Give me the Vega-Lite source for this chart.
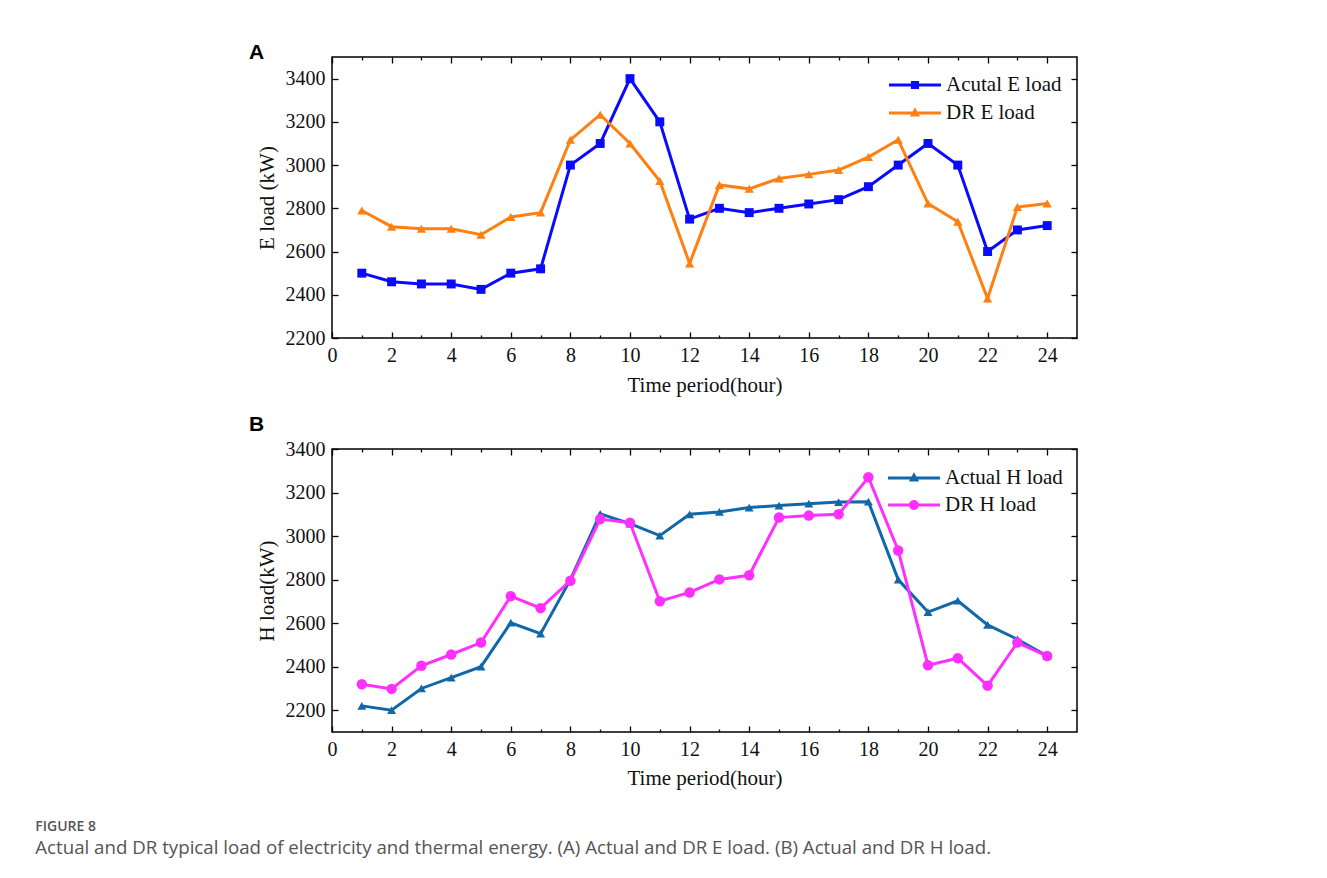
{
  "$schema": "https://vega.github.io/schema/vega-lite/v6.json",
  "padding": {"left": 35, "top": 41, "right": 0, "bottom": 0},
  "background": "white",
  "config": {
    "view": {"stroke": "black", "strokeWidth": 1.5},
    "font": "Liberation Serif",
    "axis": {
      "labelFont": "Liberation Serif", "labelFontSize": 20, "labelColor": "#111",
      "titleFont": "Liberation Serif", "titleFontSize": 21, "titleFontWeight": "normal", "titleColor": "#111",
      "tickColor": "black", "tickWidth": 1.3, "domain": false, "grid": false
    },
    "legend": {
      "labelFont": "Liberation Serif", "labelFontSize": 21, "labelColor": "#111",
      "symbolSize": 729, "symbolStrokeWidth": 0, "symbolOpacity": 1, "rowPadding": 4, "padding": 0, "labelOffset": 30, "title": null
    }
  },
  "datasets": {
    "E": [
      {"hour": 1, "series": "Acutal E load", "load": 2500}, {"hour": 2, "series": "Acutal E load", "load": 2460},
      {"hour": 3, "series": "Acutal E load", "load": 2450}, {"hour": 4, "series": "Acutal E load", "load": 2450},
      {"hour": 5, "series": "Acutal E load", "load": 2425}, {"hour": 6, "series": "Acutal E load", "load": 2500},
      {"hour": 7, "series": "Acutal E load", "load": 2520}, {"hour": 8, "series": "Acutal E load", "load": 3000},
      {"hour": 9, "series": "Acutal E load", "load": 3100}, {"hour": 10, "series": "Acutal E load", "load": 3400},
      {"hour": 11, "series": "Acutal E load", "load": 3200}, {"hour": 12, "series": "Acutal E load", "load": 2750},
      {"hour": 13, "series": "Acutal E load", "load": 2800}, {"hour": 14, "series": "Acutal E load", "load": 2780},
      {"hour": 15, "series": "Acutal E load", "load": 2800}, {"hour": 16, "series": "Acutal E load", "load": 2820},
      {"hour": 17, "series": "Acutal E load", "load": 2840}, {"hour": 18, "series": "Acutal E load", "load": 2900},
      {"hour": 19, "series": "Acutal E load", "load": 3000}, {"hour": 20, "series": "Acutal E load", "load": 3100},
      {"hour": 21, "series": "Acutal E load", "load": 3000}, {"hour": 22, "series": "Acutal E load", "load": 2600},
      {"hour": 23, "series": "Acutal E load", "load": 2700}, {"hour": 24, "series": "Acutal E load", "load": 2720},
      {"hour": 1, "series": "DR E load", "load": 2790}, {"hour": 2, "series": "DR E load", "load": 2715},
      {"hour": 3, "series": "DR E load", "load": 2705}, {"hour": 4, "series": "DR E load", "load": 2705},
      {"hour": 5, "series": "DR E load", "load": 2678}, {"hour": 6, "series": "DR E load", "load": 2760},
      {"hour": 7, "series": "DR E load", "load": 2780}, {"hour": 8, "series": "DR E load", "load": 3117},
      {"hour": 9, "series": "DR E load", "load": 3233}, {"hour": 10, "series": "DR E load", "load": 3100},
      {"hour": 11, "series": "DR E load", "load": 2926}, {"hour": 12, "series": "DR E load", "load": 2545},
      {"hour": 13, "series": "DR E load", "load": 2908}, {"hour": 14, "series": "DR E load", "load": 2890},
      {"hour": 15, "series": "DR E load", "load": 2938}, {"hour": 16, "series": "DR E load", "load": 2957},
      {"hour": 17, "series": "DR E load", "load": 2977}, {"hour": 18, "series": "DR E load", "load": 3037},
      {"hour": 19, "series": "DR E load", "load": 3117}, {"hour": 20, "series": "DR E load", "load": 2822},
      {"hour": 21, "series": "DR E load", "load": 2738}, {"hour": 22, "series": "DR E load", "load": 2383},
      {"hour": 23, "series": "DR E load", "load": 2806}, {"hour": 24, "series": "DR E load", "load": 2822}
    ],
    "H": [
      {"hour": 1, "series": "Actual H load", "load": 2220}, {"hour": 2, "series": "Actual H load", "load": 2200},
      {"hour": 3, "series": "Actual H load", "load": 2300}, {"hour": 4, "series": "Actual H load", "load": 2350},
      {"hour": 5, "series": "Actual H load", "load": 2400}, {"hour": 6, "series": "Actual H load", "load": 2602},
      {"hour": 7, "series": "Actual H load", "load": 2552}, {"hour": 8, "series": "Actual H load", "load": 2800},
      {"hour": 9, "series": "Actual H load", "load": 3102}, {"hour": 10, "series": "Actual H load", "load": 3057},
      {"hour": 11, "series": "Actual H load", "load": 3002}, {"hour": 12, "series": "Actual H load", "load": 3100},
      {"hour": 13, "series": "Actual H load", "load": 3111}, {"hour": 14, "series": "Actual H load", "load": 3131},
      {"hour": 15, "series": "Actual H load", "load": 3140}, {"hour": 16, "series": "Actual H load", "load": 3149},
      {"hour": 17, "series": "Actual H load", "load": 3156}, {"hour": 18, "series": "Actual H load", "load": 3158},
      {"hour": 19, "series": "Actual H load", "load": 2800}, {"hour": 20, "series": "Actual H load", "load": 2651},
      {"hour": 21, "series": "Actual H load", "load": 2703}, {"hour": 22, "series": "Actual H load", "load": 2592},
      {"hour": 23, "series": "Actual H load", "load": 2526}, {"hour": 24, "series": "Actual H load", "load": 2449},
      {"hour": 1, "series": "DR H load", "load": 2319}, {"hour": 2, "series": "DR H load", "load": 2298},
      {"hour": 3, "series": "DR H load", "load": 2404}, {"hour": 4, "series": "DR H load", "load": 2456},
      {"hour": 5, "series": "DR H load", "load": 2511}, {"hour": 6, "series": "DR H load", "load": 2724},
      {"hour": 7, "series": "DR H load", "load": 2669}, {"hour": 8, "series": "DR H load", "load": 2795},
      {"hour": 9, "series": "DR H load", "load": 3078}, {"hour": 10, "series": "DR H load", "load": 3061},
      {"hour": 11, "series": "DR H load", "load": 2701}, {"hour": 12, "series": "DR H load", "load": 2741},
      {"hour": 13, "series": "DR H load", "load": 2801}, {"hour": 14, "series": "DR H load", "load": 2820},
      {"hour": 15, "series": "DR H load", "load": 3085}, {"hour": 16, "series": "DR H load", "load": 3094},
      {"hour": 17, "series": "DR H load", "load": 3100}, {"hour": 18, "series": "DR H load", "load": 3270},
      {"hour": 19, "series": "DR H load", "load": 2934}, {"hour": 20, "series": "DR H load", "load": 2407},
      {"hour": 21, "series": "DR H load", "load": 2439}, {"hour": 22, "series": "DR H load", "load": 2313},
      {"hour": 23, "series": "DR H load", "load": 2511}, {"hour": 24, "series": "DR H load", "load": 2449}
    ]
  },
  "title": {
    "text": "FIGURE 8",
    "subtitle": "Actual and DR typical load of electricity and thermal energy. (A) Actual and DR E load. (B) Actual and DR H load.",
    "orient": "bottom", "anchor": "start", "frame": "bounds", "dx": -213, "offset": 31,
    "font": "Open Sans", "fontSize": 14, "fontWeight": 600, "color": "#555",
    "subtitleFont": "Open Sans", "subtitleFontSize": 18.7, "subtitleColor": "#555", "subtitlePadding": 5
  },
  "spacing": 17,
  "resolve": {"scale": {"color": "independent", "shape": "independent"}, "legend": {"color": "independent", "shape": "independent"}},
  "vconcat": [
    {
      "width": 745, "height": 281,
      "data": {"name": "E"},
      "title": {"text": "A", "anchor": "start", "frame": "group", "dx": -83, "offset": -7, "font": "Liberation Sans", "fontSize": 21, "fontWeight": "bold", "color": "black"},
      "resolve": {"axis": {"x": "independent", "y": "independent"}},
      "layer": [
        {
          "mark": {"type": "line", "strokeWidth": 3},
          "encoding": {
            "x": {"field": "hour", "type": "quantitative", "scale": {"domain": [0, 25], "nice": false, "zero": false},
              "axis": {"orient": "bottom", "title": "Time period(hour)", "values": [0,1,2,3,4,5,6,7,8,9,10,11,12,13,14,15,16,17,18,19,20,21,22,23,24],
                "labelExpr": "datum.value % 2 === 0 ? datum.label : ''", "tickSize": {"condition": {"test": "datum.value % 2 === 1", "value": -3}, "value": -6},
                "labelPadding": 13, "titlePadding": 9, "labelFlush": false}},
            "y": {"field": "load", "type": "quantitative", "scale": {"domain": [2200, 3500], "nice": false, "zero": false},
              "axis": {"orient": "left", "title": "E load (kW)", "format": "d", "values": [2200,2400,2600,2800,3000,3200,3400], "tickSize": -6, "labelPadding": 13, "titlePadding": 8, "labelFlush": false}},
            "color": {"field": "series", "type": "nominal", "scale": {"domain": ["Acutal E load", "DR E load"], "range": ["#0a0aff", "#ff7f10"]}}
          }
        },
        {
          "transform": [{"filter": "datum.series === 'Acutal E load'"}],
          "mark": {"type": "point", "filled": true, "opacity": 1, "size": 80, "shape": "square"},
          "encoding": {
            "x": {"field": "hour", "type": "quantitative",
              "axis": {"orient": "top", "title": null, "labels": false, "values": [0,1,2,3,4,5,6,7,8,9,10,11,12,13,14,15,16,17,18,19,20,21,22,23,24],
                "tickSize": {"condition": {"test": "datum.value % 2 === 1", "value": -3}, "value": -6}}},
            "y": {"field": "load", "type": "quantitative",
              "axis": {"orient": "right", "title": null, "labels": false, "values": [2200,2400,2600,2800,3000,3200,3400], "tickSize": -6}},
            "color": {"field": "series", "type": "nominal", "scale": {"domain": ["Acutal E load", "DR E load"], "range": ["#0a0aff", "#ff7f10"]}}
          }
        },
        {
          "transform": [{"filter": "datum.series === 'DR E load'"}],
          "mark": {"type": "point", "filled": true, "opacity": 1, "size": 85, "shape": "triangle-up"},
          "encoding": {
            "x": {"field": "hour", "type": "quantitative", "axis": null},
            "y": {"field": "load", "type": "quantitative", "axis": null},
            "color": {"field": "series", "type": "nominal", "scale": {"domain": ["Acutal E load", "DR E load"], "range": ["#0a0aff", "#ff7f10"]}}
          }
        },
        {
          "transform": [{"filter": "datum.hour > 1000"}],
          "mark": {"type": "point", "filled": true, "opacity": 1},
          "encoding": {
            "x": {"field": "hour", "type": "quantitative", "axis": null},
            "y": {"field": "load", "type": "quantitative", "axis": null},
            "color": {"field": "series", "type": "nominal", "scale": {"domain": ["Acutal E load", "DR E load"], "range": ["#0a0aff", "#ff7f10"]},
              "legend": {"orient": "none", "legendX": 557, "legendY": 14.5, "rowPadding": 4}},
            "shape": {"field": "series", "type": "nominal",
              "scale": {"domain": ["Acutal E load", "DR E load"], "range": ["M-1,-0.11H2.85V0.11H-1Z M0.625,-0.3H1.225V0.3H0.625Z", "M-1,-0.11H2.85V0.11H-1Z M0.925,-0.42L1.3,0.26L0.55,0.26Z"]},
              "legend": {"orient": "none", "legendX": 557, "legendY": 14.5, "rowPadding": 4}}
          }
        }
      ]
    },
    {
      "width": 745, "height": 283,
      "data": {"name": "H"},
      "title": {"text": "B", "anchor": "start", "frame": "group", "dx": -83, "offset": 4, "font": "Liberation Sans", "fontSize": 21, "fontWeight": "bold", "color": "black"},
      "resolve": {"axis": {"x": "independent", "y": "independent"}},
      "layer": [
        {
          "mark": {"type": "line", "strokeWidth": 3},
          "encoding": {
            "x": {"field": "hour", "type": "quantitative", "scale": {"domain": [0, 25], "nice": false, "zero": false},
              "axis": {"orient": "bottom", "title": "Time period(hour)", "values": [0,1,2,3,4,5,6,7,8,9,10,11,12,13,14,15,16,17,18,19,20,21,22,23,24],
                "labelExpr": "datum.value % 2 === 0 ? datum.label : ''", "tickSize": {"condition": {"test": "datum.value % 2 === 1", "value": -3}, "value": -6},
                "labelPadding": 13, "titlePadding": 8, "labelFlush": false}},
            "y": {"field": "load", "type": "quantitative", "scale": {"domain": [2100, 3400], "nice": false, "zero": false},
              "axis": {"orient": "left", "title": "H load(kW)", "format": "d", "values": [2200,2400,2600,2800,3000,3200,3400], "tickSize": -6, "labelPadding": 13, "titlePadding": 8, "labelFlush": false}},
            "color": {"field": "series", "type": "nominal", "scale": {"domain": ["Actual H load", "DR H load"], "range": ["#1068aa", "#ff30ff"]}}
          }
        },
        {
          "transform": [{"filter": "datum.series === 'Actual H load'"}],
          "mark": {"type": "point", "filled": true, "opacity": 1, "size": 80, "shape": "triangle-up"},
          "encoding": {
            "x": {"field": "hour", "type": "quantitative",
              "axis": {"orient": "top", "title": null, "labels": false, "values": [0,1,2,3,4,5,6,7,8,9,10,11,12,13,14,15,16,17,18,19,20,21,22,23,24],
                "tickSize": {"condition": {"test": "datum.value % 2 === 1", "value": -3}, "value": -6}}},
            "y": {"field": "load", "type": "quantitative",
              "axis": {"orient": "right", "title": null, "labels": false, "values": [2200,2400,2600,2800,3000,3200,3400], "tickSize": -6}},
            "color": {"field": "series", "type": "nominal", "scale": {"domain": ["Actual H load", "DR H load"], "range": ["#1068aa", "#ff30ff"]}}
          }
        },
        {
          "transform": [{"filter": "datum.series === 'DR H load'"}],
          "mark": {"type": "point", "filled": true, "opacity": 1, "size": 110, "shape": "circle"},
          "encoding": {
            "x": {"field": "hour", "type": "quantitative", "axis": null},
            "y": {"field": "load", "type": "quantitative", "axis": null},
            "color": {"field": "series", "type": "nominal", "scale": {"domain": ["Actual H load", "DR H load"], "range": ["#1068aa", "#ff30ff"]}}
          }
        },
        {
          "transform": [{"filter": "datum.hour > 1000"}],
          "mark": {"type": "point", "filled": true, "opacity": 1},
          "encoding": {
            "x": {"field": "hour", "type": "quantitative", "axis": null},
            "y": {"field": "load", "type": "quantitative", "axis": null},
            "color": {"field": "series", "type": "nominal", "scale": {"domain": ["Actual H load", "DR H load"], "range": ["#1068aa", "#ff30ff"]},
              "legend": {"orient": "none", "legendX": 556, "legendY": 15.5, "rowPadding": 3}},
            "shape": {"field": "series", "type": "nominal",
              "scale": {"domain": ["Actual H load", "DR H load"], "range": ["M-1,-0.11H2.85V0.11H-1Z M0.925,-0.42L1.3,0.26L0.55,0.26Z", "M-1,-0.11H2.85V0.11H-1Z M0.555,0A0.37,0.37 0 1,1 1.295,0A0.37,0.37 0 1,1 0.555,0Z"]},
              "legend": {"orient": "none", "legendX": 556, "legendY": 15.5, "rowPadding": 3}}
          }
        }
      ]
    }
  ]
}
